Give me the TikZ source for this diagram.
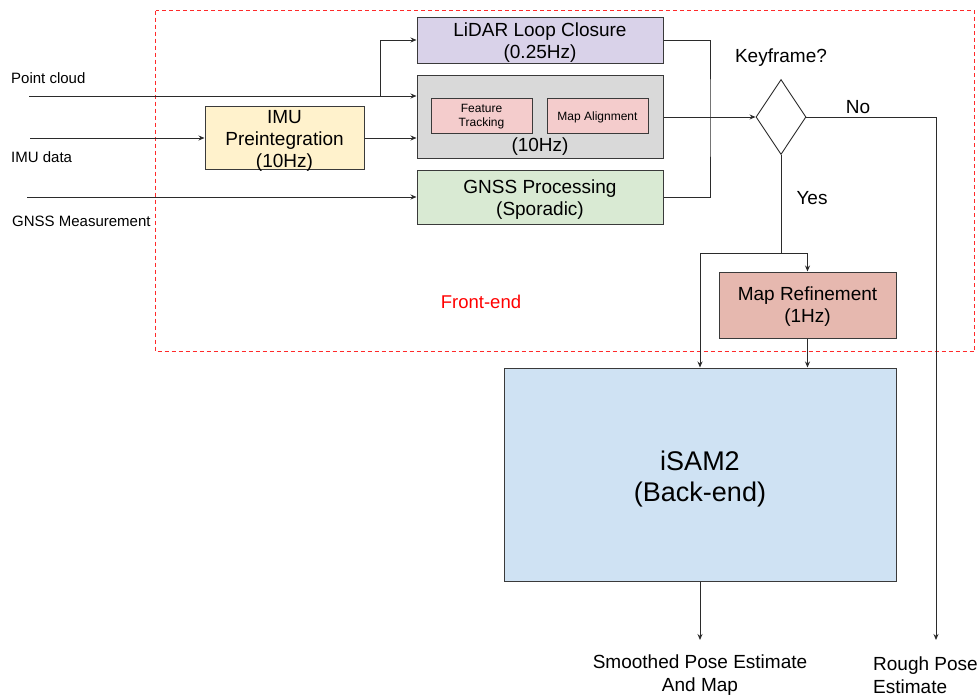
\documentclass[tikz,border=0pt]{standalone}
\usepackage{fontspec}
\setmainfont{Liberation Sans}
\usetikzlibrary{arrows.meta,shapes.geometric}
\definecolor{edgegray}{HTML}{3A3A3A}
\definecolor{lineblk}{HTML}{2B2B2B}
\definecolor{frontred}{HTML}{FF2A2A}
\definecolor{imuyellow}{HTML}{FFF2CC}
\definecolor{lidarpurple}{HTML}{D9D2E9}
\definecolor{odomgray}{HTML}{D9D9D9}
\definecolor{subpink}{HTML}{F4CCCC}
\definecolor{gnssgreen}{HTML}{D9EAD3}
\definecolor{refinered}{HTML}{E6B8AF}
\definecolor{backblue}{HTML}{CFE2F3}
\tikzset{
  box/.style={draw=edgegray, line width=1pt, rectangle, inner sep=0pt},
  boxtext/.style={inner sep=0pt, align=center, font=\fontsize{19}{22}\selectfont, yshift=-3pt},
  smalltext/.style={inner sep=0pt, align=center, font=\fontsize{12}{14}\selectfont, yshift=-1.5pt},
  bigtext/.style={inner sep=0pt, align=center, font=\fontsize{27}{31}\selectfont, yshift=-5pt},
  lbl/.style={inner sep=0pt, font=\fontsize{15}{17}\selectfont},
  mid/.style={inner sep=0pt, align=center, font=\fontsize{19}{23}\selectfont},
  wire/.style={draw=lineblk, line width=0.9pt},
  arr/.style={wire, -{Stealth[length=6pt,width=5pt]}},
}
\begin{document}
\begin{tikzpicture}[x=1pt,y=-1pt]
\useasboundingbox (0,0) rectangle (980,699);

% front-end frame
\draw[frontred, line width=1.2pt, dash pattern=on 4pt off 3pt] (155.5,10.5) rectangle (974.5,351.5);
\node[inner sep=0pt, text=red, font=\fontsize{18.5}{21}\selectfont] (fe) at (481,302) {Front-end};

% processing blocks
\node[box, fill=imuyellow, minimum width=159pt, minimum height=63pt,
  label={[boxtext]center:{IMU\\Preintegration\\(10Hz)}}] (imu) at (284.5,137.5) {};
\node[box, fill=lidarpurple, minimum width=246pt, minimum height=46pt,
  label={[boxtext]center:{LiDAR Loop Closure\\(0.25Hz)}}] (lidar) at (540,40) {};
\node[box, fill=odomgray, minimum width=246pt, minimum height=83pt] (odom) at (540,116.5) {};
\node[box, fill=subpink, minimum width=101pt, minimum height=35pt,
  label={[smalltext]center:{Feature\\Tracking}}] (ft) at (481.5,115.5) {};
\node[box, fill=subpink, minimum width=101pt, minimum height=35pt,
  label={[smalltext]center:{Map Alignment}}] (ma) at (597.5,115.5) {};
\node[inner sep=0pt, font=\fontsize{19}{22}\selectfont] (rate) at (540,146.5) {(10Hz)};
\node[box, fill=gnssgreen, minimum width=246pt, minimum height=54pt,
  label={[boxtext]center:{GNSS Processing\\(Sporadic)}}] (gnss) at (540,197) {};
\node[box, fill=refinered, minimum width=177pt, minimum height=66pt,
  label={[boxtext, yshift=1pt]center:{Map Refinement\\(1Hz)}}] (mapref) at (807.5,305) {};
\node[box, fill=backblue, minimum width=392pt, minimum height=213pt,
  label={[bigtext]center:{iSAM2\\(Back-end)}}] (isam) at (700,474.5) {};

% keyframe decision
\node[draw=lineblk, line width=0.9pt, diamond, inner sep=0pt, minimum width=50pt,
  minimum height=75pt] (dec) at (781,117) {};
\node[mid] (kf) at (781,58) {Keyframe?};
\node[mid] (no) at (858,107.5) {No};
\node[mid] (yes) at (812,198) {Yes};

% inputs
\node[lbl, anchor=west] (pclbl) at (11,78) {Point cloud};
\node[lbl, anchor=west] (imulbl) at (11,157) {IMU data};
\node[lbl, anchor=west] (gnsslbl) at (12,221) {GNSS Measurement};
\coordinate (pcin) at (29,96);
\coordinate (pcsplit) at (380,96);
\coordinate (imuin) at (30,138);
\coordinate (gnssin) at (27,197);

% outputs
\node[mid] (smooth) at (700,675) {Smoothed Pose Estimate\\And Map};
\node[mid, anchor=west, align=left] (rough) at (873,675) {Rough Pose\\Estimate};
\coordinate (smoothend) at (700,640);
\coordinate (roughend) at (936,640);

% junctions
\coordinate (merge) at (710,117);
\coordinate (ysplit) at (781,253);

% connectors
\draw[arr] (pcin) -- (pcin -| odom.west);
\draw[arr] (pcsplit) |- (lidar.west);
\draw[arr] (imuin) -- (imuin -| imu.west);
\draw[arr] (imu.east |- imuin) -- (imuin -| odom.west);
\draw[arr] (gnssin) -- (gnss.west);
\draw[wire] (lidar.east) -| (merge) |- (gnss.east);
\draw[arr] (odom.east |- merge) -- (dec.west);
\draw[arr] (dec.east) -| (roughend);
\draw[wire] (dec.south) -- (ysplit);
\draw[arr] (ysplit) -| (mapref.north);
\draw[arr] (ysplit) -| (isam.north);
\draw[arr] (mapref.south) -- (mapref.south |- isam.north);
\draw[arr] (isam.south) -- (smoothend);
\end{tikzpicture}
\end{document}
